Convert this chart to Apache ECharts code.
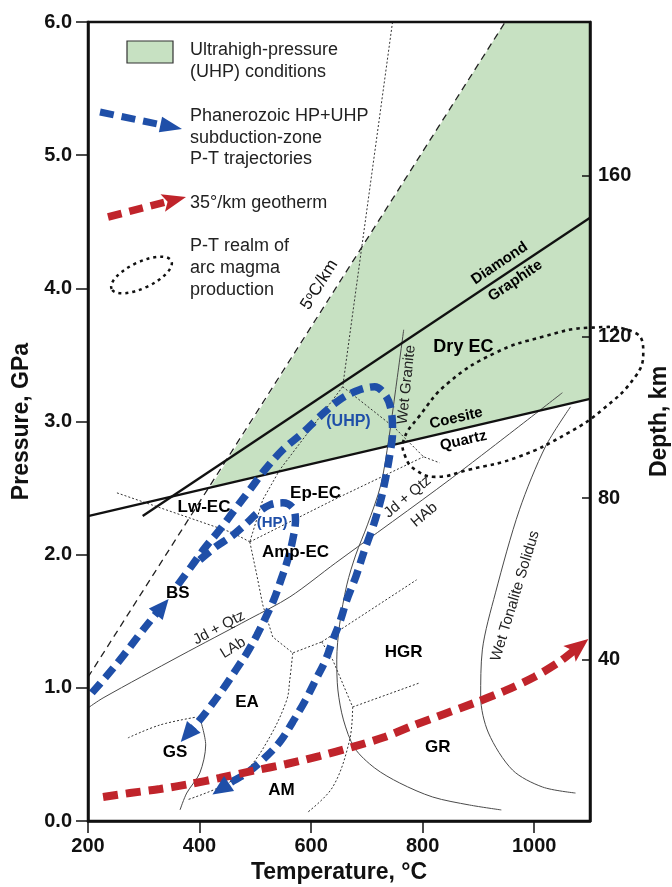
<!DOCTYPE html>
<html>
<head>
<meta charset="utf-8">
<script src="https://cdn.jsdelivr.net/npm/echarts@6/dist/echarts.min.js"></script>
<style>
  html, body { margin: 0; padding: 0; background: #fff; }
  #chart { width: 672px; height: 887px; }
</style>
</head>
<body>
<div id="chart"></div>
<script>
// ---------- data: temperature (°C), pressure (GPa) ----------
const tempTicks = [200, 400, 600, 800, 1000];
const pressureTicks = [0, 1, 2, 3, 4, 5, 6];
const depthTicks = [40, 80, 120, 160];

// ultrahigh-pressure field
const uhpField = [[420, 2.51], [948, 6.0], [1100, 6.0], [1100, 3.17]];

// reaction / reference lines
const geotherm5 = [[200, 1.08], [948, 6.0]];
const coesiteQuartz = [[200, 2.29], [1100, 3.17]];
const diamondGraphite = [[298, 2.29], [1100, 4.53]];
const jdQtzAb = [[200, 0.849], [227, 0.924], [365, 1.24], [490, 1.518], [562, 1.683], [644, 1.938], [848, 2.562], [1050.5, 3.216]];
const wetGranite = [[766, 3.689], [751.5, 3.238], [739, 2.862], [725, 2.524], [701, 2.224], [680, 1.998], [664, 1.773], [651, 1.473], [646, 1.21], [648, 0.984], [658, 0.759], [678, 0.548], [714, 0.398], [759, 0.285], [818, 0.18], [884, 0.12], [941, 0.083]];
const wetTonalite = [[1065, 3.11], [1020, 2.81], [973.5, 2.337], [930.5, 1.713], [907, 1.285], [904, 0.932], [918, 0.661], [961, 0.383], [1015, 0.255], [1074, 0.21]];
const gsCurve = [[400.5, 0.774], [411, 0.571], [400.5, 0.361], [377, 0.21], [365, 0.083]];

// metamorphic facies boundaries
const faciesStraight = [
  [[746, 6.0], [656.6, 3.261]],
  [[656.6, 3.261], [749.7, 2.953], [801.6, 2.735], [830.3, 2.69]],
  [[490.1, 2.096], [644, 2.419], [801.6, 2.735]],
  [[656.6, 3.261], [543.8, 2.637], [513.3, 2.412], [490.1, 2.096]],
  [[251.9, 2.464], [459.6, 2.164], [490.1, 2.096]],
  [[490.1, 2.096], [502.6, 1.848], [513.3, 1.623], [531.2, 1.382], [567.1, 1.262], [619, 1.345]],
  [[619, 1.345], [789.1, 1.811]],
  [[619, 1.345], [638.7, 1.21], [674.5, 0.856]],
  [[674.5, 0.856], [794.4, 1.037]]
];
const faciesCurved = [
  [[674.5, 0.856], [669.1, 0.609], [638.7, 0.255], [592.1, 0.06]],
  [[567.1, 1.262], [561.7, 1.059], [556.3, 0.909], [525.9, 0.631], [484.7, 0.383], [436.3, 0.255], [377.3, 0.158]],
  [[271.6, 0.624], [328.9, 0.721], [395.2, 0.781]]
];

// subduction-zone P-T trajectories
const pathBS = [[207, 0.962], [232, 1.082], [263, 1.24], [293, 1.405], [316, 1.525], [333, 1.61]];
const pathUHP = [[361, 1.773], [386, 1.916], [409.5, 2.051], [436, 2.186], [463, 2.337], [490, 2.487], [517, 2.637], [549, 2.787], [585, 2.915], [615, 3.035], [651, 3.163], [687, 3.238], [714, 3.261], [734, 3.193], [744, 3.073], [746, 2.915], [741, 2.75], [734, 2.584], [725, 2.412], [712, 2.224], [696, 2.036], [680, 1.833], [664, 1.66], [651, 1.488], [639, 1.36], [626, 1.21], [610, 1.074], [590, 0.909], [567, 0.744], [544, 0.594], [513, 0.458], [485, 0.361], [454, 0.285], [438, 0.24]];
const pathHP = [[400.5, 1.961], [429, 2.059], [458, 2.141], [483, 2.231], [504, 2.314], [526, 2.374], [549, 2.389], [567, 2.352], [572, 2.261], [567, 2.111], [558, 1.961], [546, 1.811], [533, 1.66], [519, 1.533], [503, 1.397], [485, 1.262], [465, 1.134], [443.5, 0.999], [420, 0.864], [400.5, 0.759], [378, 0.65]];

// 35°/km geotherm
const geotherm35 = [[227, 0.18], [275, 0.21], [329, 0.24], [383, 0.278], [436, 0.323], [495, 0.376], [556, 0.428], [615, 0.488], [674.5, 0.556], [732, 0.631], [785.5, 0.721], [839, 0.804], [893, 0.887], [947, 0.977], [1000, 1.082], [1045, 1.195], [1083, 1.32]];

// arc magma production realm
const arcMagma = [[766, 2.862], [769, 2.735], [787, 2.637], [823, 2.584], [882, 2.637], [972, 2.735], [1061, 2.915], [1122, 3.088], [1181, 3.336], [1195.5, 3.516], [1181, 3.666], [1097, 3.704], [1015, 3.636], [930.5, 3.516], [846, 3.291], [793, 3.035]];

// text annotations
const faciesNames = [['Dry EC', 873, 3.56], ['Ep-EC', 608, 2.464], ['Lw-EC', 408, 2.352], ['Amp-EC', 572, 2.021], ['BS', 361, 1.713], ['EA', 485, 0.894], ['GS', 356, 0.518], ['AM', 547, 0.233], ['HGR', 766, 1.27], ['GR', 827, 0.556]];
const reactionNames = [['Coesite', 860, 3.024, 13], ['Quartz', 873, 2.855, 13], ['Diamond', 938, 4.188, 34], ['Graphite', 966, 4.057, 34]];
const curveNames = [['Wet Granite', 771, 3.276, 84], ['Jd + Qtz', 435, 1.45, 28], ['LAb', 460, 1.3, 32], ['Jd + Qtz', 773, 2.434, 40], ['HAb', 803, 2.299, 40], ['Wet Tonalite Solidus', 966, 1.69, 73]];
const pathNames = [['(UHP)', 667, 2.998], ['(HP)', 530, 2.239]];
const gradientName = ['5{o|o}C/km', 615, 4.027, 58];

const legendLines = [
  { y: 50, text: 'Ultrahigh-pressure' }, { y: 72, text: '(UHP) conditions' },
  { y: 116, text: 'Phanerozoic HP+UHP' }, { y: 138, text: 'subduction-zone' }, { y: 159, text: 'P-T trajectories' },
  { y: 203, text: '35°/km geotherm' },
  { y: 246, text: 'P-T realm of' }, { y: 268, text: 'arc magma' }, { y: 290, text: 'production' }
];

// ---------- styling ----------
const FONT = '"Liberation Sans", Arial, Helvetica, sans-serif';
const COL = { green: '#c7e1c2', blue: '#1f4fa8', red: '#c0242b', ink: '#111', thin: '#4a4a4a', dot: '#333' };

function line(data, lineStyle, extra) {
  return Object.assign({
    type: 'line', data: data, symbol: 'none', silent: true, animation: false,
    lineStyle: lineStyle, z: 3
  }, extra || {});
}

const series = [];

series.push({
  type: 'custom', silent: true, animation: false, z: 1,
  data: uhpField,
  renderItem: function (params, api) {
    if (params.dataIndex !== 0) return null;
    return {
      type: 'polygon',
      shape: { points: uhpField.map(function (p) { return api.coord(p); }) },
      style: { fill: COL.green }
    };
  }
});

series.push(line(geotherm5, { color: '#222', width: 1.3, type: [7, 5] }, { z: 2 }));
faciesStraight.forEach(function (d) {
  series.push(line(d, { color: COL.dot, width: 1, type: [2, 2] }, { z: 2 }));
});
faciesCurved.forEach(function (d) {
  series.push(line(d, { color: COL.dot, width: 1, type: [2, 2] }, { z: 2, smooth: 0.35 }));
});
[jdQtzAb, wetGranite, wetTonalite, gsCurve].forEach(function (d) {
  series.push(line(d, { color: COL.thin, width: 1 }, { z: 2, smooth: 0.3 }));
});
series.push(line(coesiteQuartz, { color: COL.ink, width: 2.3 }));
series.push(line(diamondGraphite, { color: COL.ink, width: 2.3 }));

// the magma realm reaches past the right axis, so it is drawn unclipped
series.push({
  type: 'custom', silent: true, animation: false, z: 3, clip: false,
  data: arcMagma,
  renderItem: function (params, api) {
    if (params.dataIndex !== 0) return null;
    return {
      type: 'polygon',
      shape: { points: arcMagma.map(function (p) { return api.coord(p); }), smooth: 0.45 },
      style: { fill: null, stroke: COL.ink, lineWidth: 2.6, lineDash: [3.5, 4] }
    };
  }
});

[pathBS, pathUHP, pathHP].forEach(function (d) {
  series.push(line(d, { color: COL.blue, width: 7.5, type: [13, 7], cap: 'butt' }, { z: 4, smooth: 0.35 }));
});
series.push(line(geotherm35, { color: COL.red, width: 8, type: [15, 8], cap: 'butt' }, { z: 4, smooth: 0.3 }));

function labelItem(name, t, p, rot, style) {
  return {
    name: name, value: [t, p],
    label: Object.assign({ rotate: rot || 0, opacity: 1 }, style)
  };
}
const labelData = [];
faciesNames.forEach(function (r) {
  labelData.push(labelItem(r[0], r[1], r[2], 0, { fontSize: r[0] === 'Dry EC' ? 18 : 17, fontWeight: 'bold', color: '#000' }));
});
reactionNames.forEach(function (r) {
  labelData.push(labelItem(r[0], r[1], r[2], r[3], { fontSize: 15, fontWeight: 'bold', color: '#000' }));
});
curveNames.forEach(function (r) {
  labelData.push(labelItem(r[0], r[1], r[2], r[3], { fontSize: 15, color: '#222' }));
});
pathNames.forEach(function (r) {
  labelData.push(labelItem(r[0], r[1], r[2], 0, { fontSize: r[0] === '(UHP)' ? 16 : 15, fontWeight: 'bold', color: COL.blue }));
});
labelData.push({
  name: gradientName[0], value: [gradientName[1], gradientName[2]],
  label: {
    rotate: gradientName[3], fontSize: 17, color: '#111', formatter: gradientName[0], opacity: 1,
    rich: { o: { fontSize: 11, verticalAlign: 'top', color: '#111', fontFamily: FONT } }
  }
});

series.push({
  type: 'scatter', silent: true, animation: false, z: 6,
  symbolSize: 0, data: labelData,
  itemStyle: { opacity: 1 },
  label: { show: true, position: 'inside', formatter: '{b}', fontFamily: FONT, opacity: 1, textBorderWidth: 0 }
});

// legend artwork (pixel layout)
const legendGraphic = [
  { type: 'rect', shape: { x: 127, y: 41, width: 46, height: 22 }, style: { fill: COL.green, stroke: '#333', lineWidth: 1.2 }, z: 50 },
  { type: 'polyline', shape: { points: [[100, 112], [162, 125]] }, style: { stroke: COL.blue, lineWidth: 7, lineDash: [14, 8], fill: null }, z: 50 },
  { type: 'polyline', shape: { points: [[108, 217], [166, 202]] }, style: { stroke: COL.red, lineWidth: 7.5, lineDash: [14, 8], fill: null }, z: 50 },
  { type: 'ellipse', shape: { cx: 0, cy: 0, rx: 33, ry: 13 }, x: 141.5, y: 275, rotation: 0.44, style: { fill: null, stroke: COL.ink, lineWidth: 2.5, lineDash: [3, 4] }, z: 50 }
];
legendLines.forEach(function (l) {
  legendGraphic.push({
    type: 'text', x: 190, y: l.y, z: 50,
    style: { text: l.text, fill: '#222', fontSize: 18, fontFamily: FONT, verticalAlign: 'middle', align: 'left' }
  });
});

function headPolygon(tip, from, len, half, notch, color, ahead) {
  const dx = tip[0] - from[0], dy = tip[1] - from[1];
  const n = Math.sqrt(dx * dx + dy * dy) || 1;
  const ux = dx / n, uy = dy / n, px = -uy, py = ux;
  const tx = tip[0] + ux * ahead, ty = tip[1] + uy * ahead;
  const bx = tx - ux * len, by = ty - uy * len;
  const pts = [
    [tx, ty],
    [bx + px * half, by + py * half],
    [bx + ux * notch, by + uy * notch],
    [bx - px * half, by - py * half]
  ];
  return { type: 'polygon', shape: { points: pts }, style: { fill: color }, z: 60, silent: true };
}
legendGraphic.push(headPolygon([182, 129], [100, 112], 22, 8, 0, COL.blue, 0));
legendGraphic.push(headPolygon([186, 197], [108, 217], 24, 9, 5, COL.red, 0));

const axisText = { color: COL.ink, fontFamily: FONT, fontWeight: 'bold', fontSize: 20 };
const axisLineStyle = { color: COL.ink, width: 2.5 };

const option = {
  animation: false,
  backgroundColor: '#fff',
  grid: { left: 88, right: 82, top: 22, bottom: 66, show: true, borderColor: COL.ink, borderWidth: 2.5, backgroundColor: 'transparent', z: 10, outerBoundsMode: 'none', containLabel: false },
  xAxis: {
    type: 'value', min: 200, max: 1100, position: 'bottom', z: 10,
    axisLine: { onZero: false, lineStyle: axisLineStyle },
    axisTick: { customValues: tempTicks, length: 12, lineStyle: { color: COL.ink, width: 1.5 } },
    axisLabel: Object.assign({ customValues: tempTicks, margin: 15, formatter: function (v) { return String(v); } }, axisText),
    splitLine: { show: false },
    name: 'Temperature, °C', nameLocation: 'middle', nameGap: 39,
    nameTextStyle: { color: COL.ink, fontFamily: FONT, fontWeight: 'bold', fontSize: 23 }
  },
  yAxis: [{
    type: 'value', min: 0, max: 6, position: 'left', z: 10,
    axisLine: { onZero: false, lineStyle: axisLineStyle },
    axisTick: { customValues: pressureTicks, length: 12, lineStyle: { color: COL.ink, width: 1.5 } },
    axisLabel: Object.assign({ customValues: pressureTicks, margin: 16, formatter: function (v) { return v.toFixed(1); } }, axisText),
    splitLine: { show: false },
    name: 'Pressure, GPa', nameLocation: 'middle', nameGap: 51, nameRotate: 90,
    nameTextStyle: { color: COL.ink, fontFamily: FONT, fontWeight: 'bold', fontSize: 23 }
  }, {
    type: 'value', min: 0, max: 198, position: 'right', z: 10,
    axisLine: { show: true, onZero: false, lineStyle: axisLineStyle },
    axisTick: { customValues: depthTicks, inside: true, length: 8, lineStyle: { color: COL.ink, width: 1.5 } },
    axisLabel: Object.assign({ customValues: depthTicks, margin: 8, formatter: function (v) { return String(v); } }, axisText),
    splitLine: { show: false },
    name: 'Depth, km', nameLocation: 'middle', nameGap: 58, nameRotate: 90,
    nameTextStyle: { color: COL.ink, fontFamily: FONT, fontWeight: 'bold', fontSize: 23 }
  }],
  series: series,
  graphic: legendGraphic
};

const chart = echarts.init(document.getElementById('chart'));
chart.setOption(option);

// arrowheads at the ends of the trajectories, placed through the axes
function px(pt) { return chart.convertToPixel({ xAxisIndex: 0, yAxisIndex: 0 }, pt); }
function headAt(path, len, half, notch, color, ahead) {
  const n = path.length;
  return headPolygon(px(path[n - 1]), px(path[n - 2]), len, half, notch, color, ahead);
}
const heads = [
  headAt(pathBS, 20, 9, 0, COL.blue, 10),
  headAt(pathUHP, 20, 9, 0, COL.blue, 10),
  headAt(pathHP, 20, 9, 0, COL.blue, 10),
  headAt(geotherm35, 24, 10, 5, COL.red, 10)
];
chart.setOption({ graphic: legendGraphic.concat(heads) });
</script>
</body>
</html>
